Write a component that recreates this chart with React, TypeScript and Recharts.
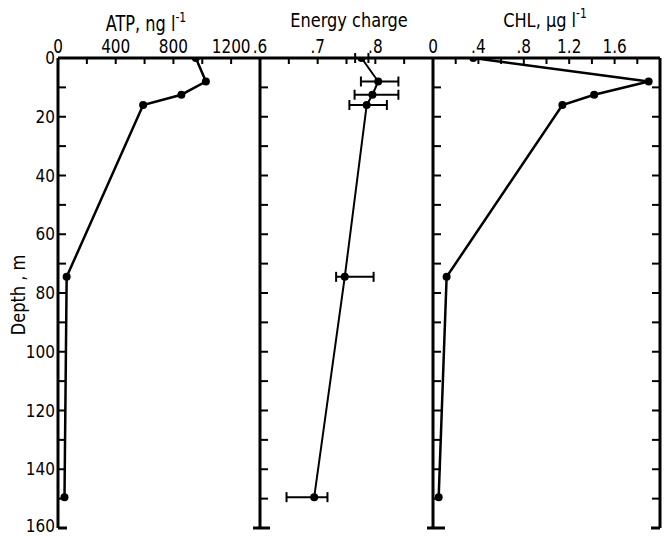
import React from 'react';
import { ScatterChart, Scatter, XAxis, YAxis, ErrorBar } from 'recharts';

// ---- data ----
const depthM = [0, 8, 12.5, 16, 74.5, 149.5];
const atpValues = [955, 1025, 855, 590, 60, 45];
const ecValues = [0.776, 0.805, 0.795, 0.785, 0.747, 0.694];
const ecErrLow = [0.011, 0.03, 0.031, 0.03, 0.015, 0.048];
const ecErrHigh = [0.012, 0.035, 0.045, 0.035, 0.05, 0.023];
const chlValues = [0.355, 1.9, 1.42, 1.14, 0.12, 0.05];

// ---- ticks ----
const depthTicks = [0, 10, 20, 30, 40, 50, 60, 70, 80, 90, 100, 110, 120, 130, 140, 150, 160];
const depthLabelValues = [0, 20, 40, 60, 80, 100, 120, 140, 160];
const atpTicks = [0, 200, 400, 600, 800, 1000, 1200, 1400];
const atpLabelValues = [0, 400, 800, 1200];
const atpLabelTexts = ['0', '400', '800', '1200'];
const ecTicks = [0.6, 0.65, 0.7, 0.75, 0.8, 0.85, 0.9];
const ecLabelValues = [0.6, 0.7, 0.8];
const ecLabelTexts = ['.6', '.7', '.8'];
const chlTicks = [0, 0.2, 0.4, 0.6, 0.8, 1.0, 1.2, 1.4, 1.6, 1.8, 2.0];
const chlLabelValues = [0, 0.4, 0.8, 1.2, 1.6];
const chlLabelTexts = ['0', '.4', '.8', '1.2', '1.6'];

const atpData = depthM.map((d, i) => ({ depth: d, v: atpValues[i] }));
const ecData = depthM.map((d, i) => ({ depth: d, v: ecValues[i], err: [ecErrLow[i], ecErrHigh[i]] }));
const chlData = depthM.map((d, i) => ({ depth: d, v: chlValues[i] }));

const FONT = "'Liberation Sans Narrow', 'DejaVu Sans Condensed', 'DejaVu Sans', sans-serif";
const W = 667;
const H = 536;
const TOP = 58;
const BOTTOM = 528;
const X_A = 58;
const X_B = 260;
const X_C = 433;
const X_R = 660;

const findLabel = (v: number, vals: number[], texts: string[]) => {
  for (let i = 0; i < vals.length; i++) if (Math.abs(vals[i] - v) < 1e-6) return texts[i];
  return null;
};

const TallText = (props: {
  x: number;
  y: number;
  size: number;
  sy?: number;
  anchor?: 'start' | 'middle' | 'end';
  baseline?: string;
  children: React.ReactNode;
}) => {
  const { x, y, size, sy = 1.15, anchor = 'middle', baseline, children } = props;
  return (
    <text
      transform={`translate(${x} ${y}) scale(1 ${sy})`}
      x={0}
      y={0}
      textAnchor={anchor}
      dominantBaseline={baseline as any}
      fontSize={size}
      fontFamily={FONT}
      fill="#000"
    >
      {children}
    </text>
  );
};

const makeTopTick = (vals: number[], texts: string[], skipFirst: boolean) => (p: any) => {
  const { x, y, payload } = p;
  const v = payload.value;
  const label = findLabel(v, vals, texts);
  const isFirst = Math.abs(v - vals[0]) < 1e-6;
  return (
    <g>
      {!(skipFirst && isFirst) && <line x1={x} x2={x} y1={y} y2={y + 6} stroke="#000" strokeWidth={2} />}
      {label !== null && (
        <TallText x={x} y={y - 5} size={17}>
          {label}
        </TallText>
      )}
    </g>
  );
};

const makeDepthTick = (dir: 'right' | 'left', showLabels: boolean, capL: number, capR: number) => (p: any) => {
  const { x, y, payload } = p;
  const v = payload.value;
  const isEnd = v === 160;
  const len = 8;
  let line = null;
  if (v !== 0) {
    if (isEnd) {
      line = <line x1={x - capL} x2={x + capR} y1={y} y2={y} stroke="#000" strokeWidth={3} />;
    } else {
      line = <line x1={x} x2={dir === 'right' ? x + len : x - len} y1={y} y2={y} stroke="#000" strokeWidth={2} />;
    }
  }
  const showLabel = showLabels && depthLabelValues.indexOf(v) >= 0;
  return (
    <g>
      {line}
      {showLabel && (
        <TallText x={x - 3} y={isEnd ? y - 2 : y} size={17} sy={1.08} anchor="end" baseline="central">
          {v}
        </TallText>
      )}
    </g>
  );
};

const Dot = (p: any) => <circle cx={p.cx} cy={p.cy} r={4} fill="#000" />;

const axisLine = { stroke: '#000', strokeWidth: 3 };

const absBox: React.CSSProperties = { position: 'absolute', left: 0, top: 0, width: W, height: H };

export default function App() {
  return (
    <div style={{ ...absBox, background: '#fff' }}>
      {/* ATP panel */}
      <div style={absBox}>
        <ScatterChart width={W} height={H} margin={{ top: TOP - 1, left: X_A - 1, right: W - X_B, bottom: H - BOTTOM }}>
          <XAxis
            xAxisId="x"
            type="number"
            dataKey="v"
            orientation="top"
            domain={[0, 1400]}
            ticks={atpTicks}
            interval={0}
            height={1}
            tickSize={0}
            tickMargin={0}
            tickLine={false}
            axisLine={axisLine}
            allowDataOverflow
            tick={makeTopTick(atpLabelValues, atpLabelTexts, true)}
          />
          <YAxis
            yAxisId="y"
            type="number"
            dataKey="depth"
            reversed
            domain={[0, 160]}
            ticks={depthTicks}
            interval={0}
            width={1}
            tickSize={0}
            tickMargin={0}
            tickLine={false}
            axisLine={axisLine}
            allowDataOverflow
            tick={makeDepthTick('right', true, 0, 9)}
          />
          <Scatter
            xAxisId="x"
            yAxisId="y"
            data={atpData}
            line={{ stroke: '#000', strokeWidth: 2.5 }}
            shape={Dot}
            isAnimationActive={false}
          />
        </ScatterChart>
      </div>

      {/* Energy charge panel */}
      <div style={absBox}>
        <ScatterChart width={W} height={H} margin={{ top: TOP - 1, left: X_B - 1, right: W - X_C, bottom: H - BOTTOM }}>
          <XAxis
            xAxisId="x"
            type="number"
            dataKey="v"
            orientation="top"
            domain={[0.6, 0.9]}
            ticks={ecTicks}
            interval={0}
            height={1}
            tickSize={0}
            tickMargin={0}
            tickLine={false}
            axisLine={axisLine}
            allowDataOverflow
            tick={makeTopTick(ecLabelValues, ecLabelTexts, true)}
          />
          <YAxis
            yAxisId="y"
            type="number"
            dataKey="depth"
            reversed
            domain={[0, 160]}
            ticks={depthTicks}
            interval={0}
            width={1}
            tickSize={0}
            tickMargin={0}
            tickLine={false}
            axisLine={axisLine}
            allowDataOverflow
            tick={makeDepthTick('right', false, 7, 10)}
          />
          <Scatter
            xAxisId="x"
            yAxisId="y"
            data={ecData}
            line={{ stroke: '#000', strokeWidth: 2 }}
            shape={Dot}
            isAnimationActive={false}
          >
            <ErrorBar dataKey="err" direction="x" width={5} stroke="#000" strokeWidth={2} />
          </Scatter>
        </ScatterChart>
      </div>

      {/* CHL panel */}
      <div style={absBox}>
        <ScatterChart width={W} height={H} margin={{ top: TOP - 1, left: X_C - 1, right: W - X_R - 1, bottom: H - BOTTOM }}>
          <XAxis
            xAxisId="x"
            type="number"
            dataKey="v"
            orientation="top"
            domain={[0, 2.0]}
            ticks={chlTicks}
            interval={0}
            height={1}
            tickSize={0}
            tickMargin={0}
            tickLine={false}
            axisLine={axisLine}
            allowDataOverflow
            tick={makeTopTick(chlLabelValues, chlLabelTexts, true)}
          />
          <YAxis
            yAxisId="y"
            type="number"
            dataKey="depth"
            reversed
            domain={[0, 160]}
            ticks={depthTicks}
            interval={0}
            width={1}
            tickSize={0}
            tickMargin={0}
            tickLine={false}
            axisLine={axisLine}
            allowDataOverflow
            tick={makeDepthTick('right', false, 6, 12)}
          />
          <YAxis
            yAxisId="r"
            orientation="right"
            type="number"
            reversed
            domain={[0, 160]}
            ticks={depthTicks}
            interval={0}
            width={1}
            tickSize={0}
            tickMargin={0}
            tickLine={false}
            axisLine={axisLine}
            allowDataOverflow
            tick={makeDepthTick('left', false, 9, 0)}
          />
          <Scatter
            xAxisId="x"
            yAxisId="y"
            data={chlData}
            line={{ stroke: '#000', strokeWidth: 2.5 }}
            shape={Dot}
            isAnimationActive={false}
          />
        </ScatterChart>
      </div>

      {/* titles */}
      <svg width={W} height={H} style={{ ...absBox, pointerEvents: 'none' }}>
        <TallText x={146} y={31} size={18} sy={1.15}>
          ATP, ng l<tspan dy={-8} fontSize={12}>-1</tspan>
        </TallText>
        <TallText x={349} y={27} size={18} sy={1.1}>
          Energy  charge
        </TallText>
        <TallText x={545} y={27} size={18} sy={1.1}>
          CHL, μg l<tspan dy={-8} fontSize={12}>-1</tspan>
        </TallText>
        <g transform="rotate(-90 18 295)">
          <TallText x={18} y={295} size={18} sy={1.05} baseline="central">
            Depth , m
          </TallText>
        </g>
      </svg>
    </div>
  );
}
